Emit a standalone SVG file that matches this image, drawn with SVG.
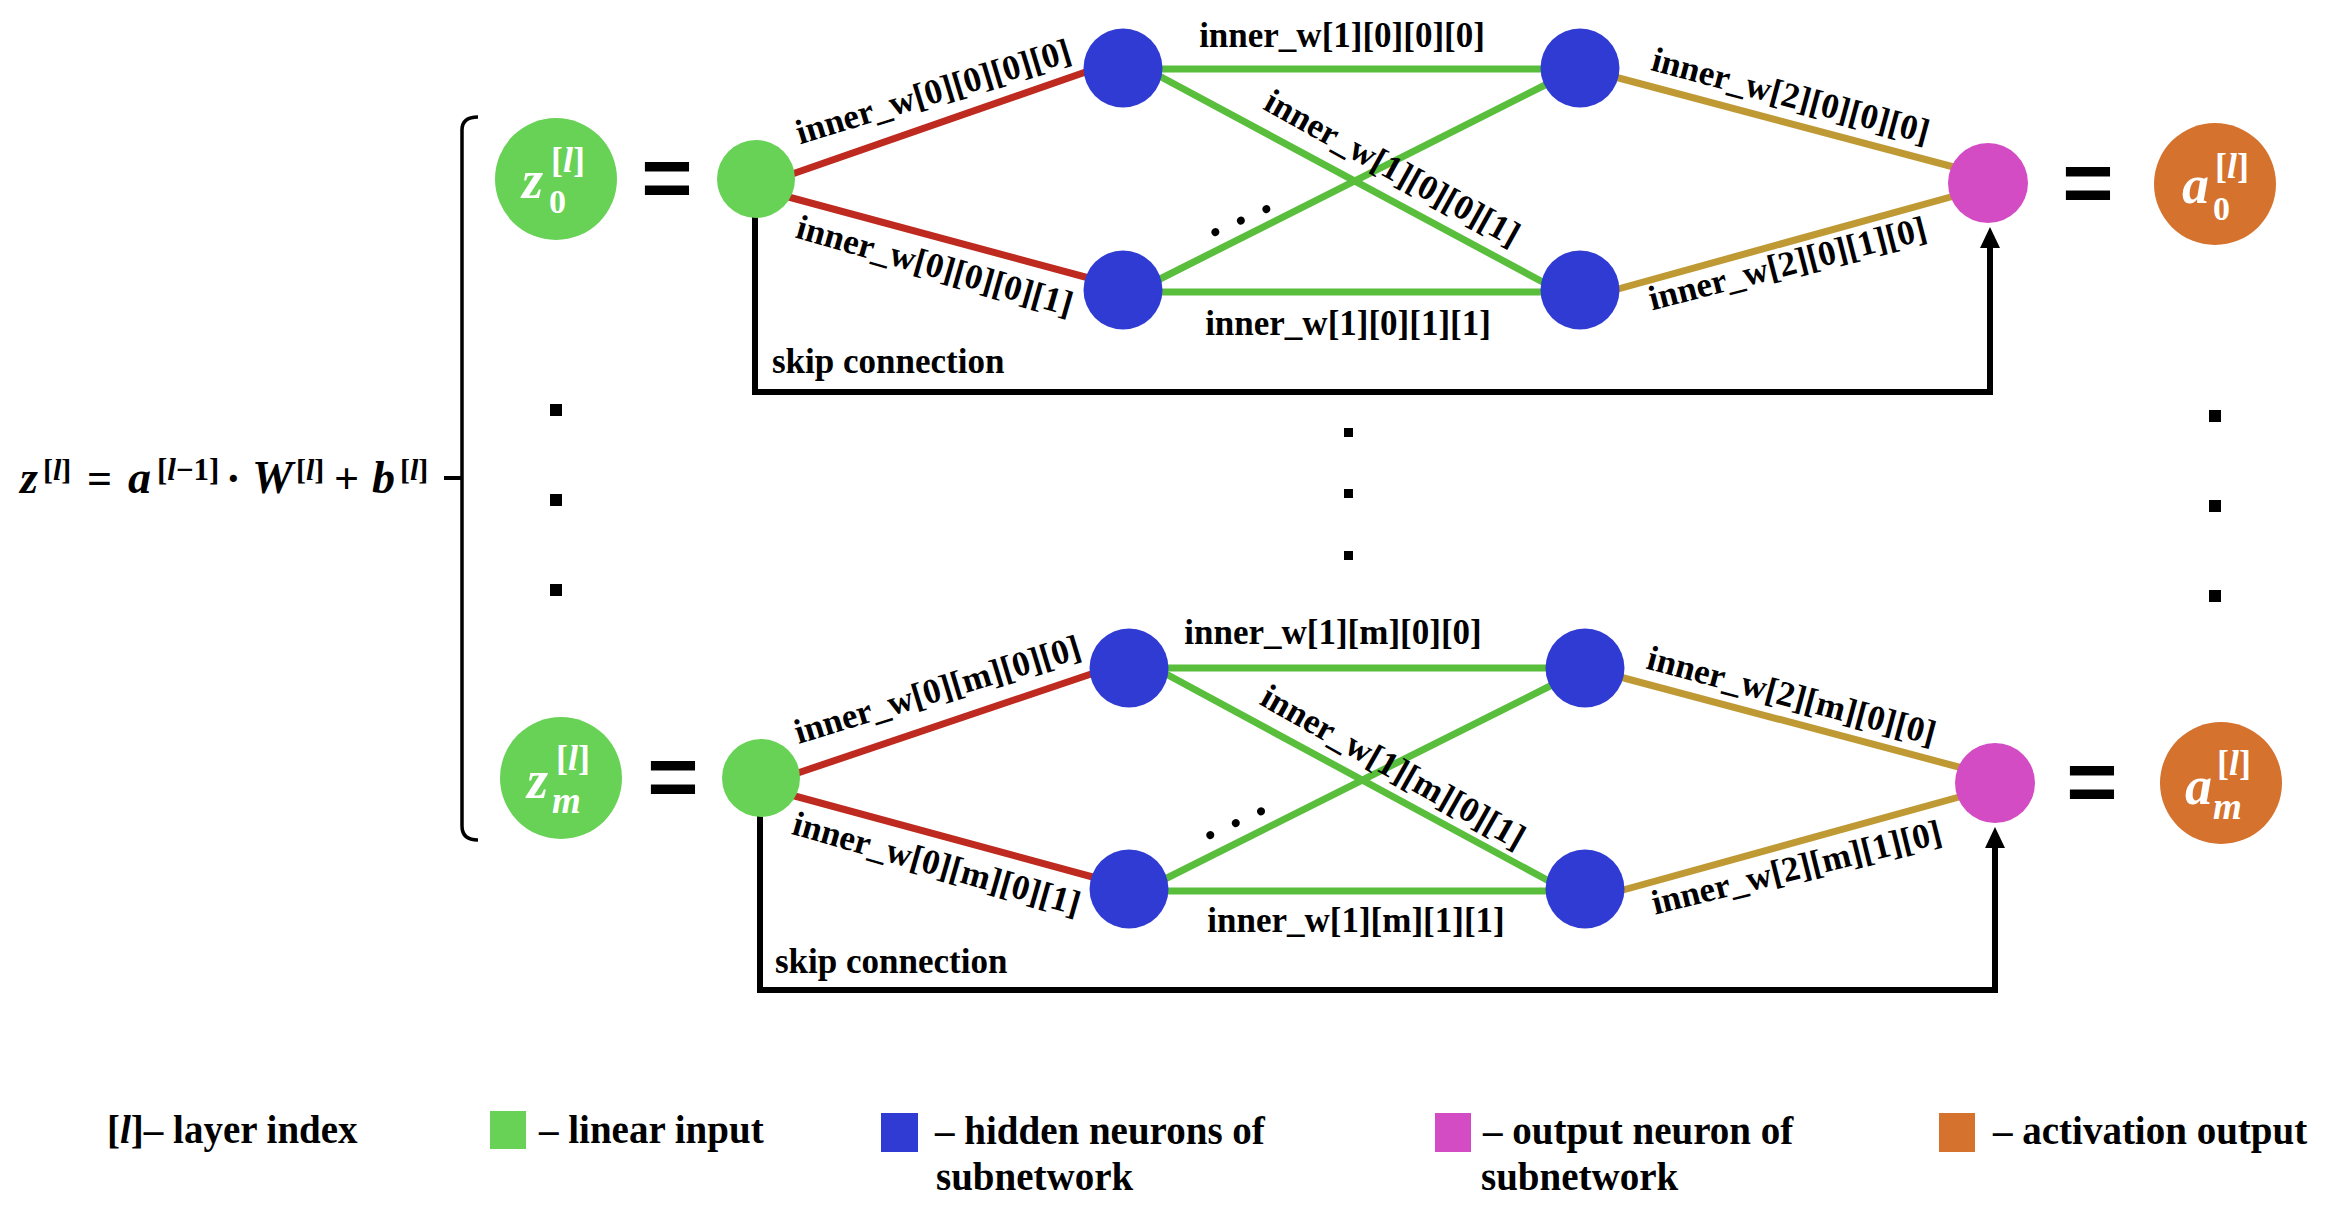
<svg xmlns="http://www.w3.org/2000/svg" width="2330" height="1206" viewBox="0 0 2330 1206">
<defs>
<style>
.lbl{font-family:"Liberation Serif",serif;font-weight:bold;font-size:35px;fill:#000}
.leg{font-family:"Liberation Serif",serif;font-weight:bold;font-size:39px;fill:#000}
.eq{font-family:"Liberation Sans",sans-serif;font-weight:bold;font-size:88px;fill:#000;text-anchor:middle}
.mth{font-family:"Liberation Serif",serif;font-weight:bold;fill:#000}
.nt{font-family:"Liberation Serif",serif;font-weight:bold;fill:#fff}
.it{font-style:italic}
.red{stroke:#BE2A1F;stroke-width:7;fill:none}
.grn{stroke:#58BE3B;stroke-width:7;fill:none}
.gld{stroke:#BF9A34;stroke-width:7;fill:none}
.skip{stroke:#000;stroke-width:6;fill:none;marker-end:url(#arr)}
.cin{fill:#67D255}
.chid{fill:#303BD4}
.cout{fill:#D34CC4}
.cact{fill:#D5722E}
.dot{fill:#000}
.dots{font-family:"Liberation Serif",serif;font-weight:bold;font-size:50px;letter-spacing:15.5px;fill:#000}
</style>
<marker id="arr" markerUnits="userSpaceOnUse" markerWidth="22" markerHeight="22" viewBox="0 0 22 22" refX="0" refY="11" orient="auto">
<path d="M0,1 L21,11 L0,21 Z" fill="#000"/>
</marker>
</defs>
<rect width="2330" height="1206" fill="#fff"/>

<!-- equation and brace -->
<g id="equation">
<text class="mth" font-size="46"><tspan class="it" x="20" y="493">z</tspan><tspan x="43" y="480" font-size="30">[</tspan><tspan class="it" font-size="30">l</tspan><tspan font-size="30">]</tspan><tspan x="87" y="493" font-size="44">=</tspan><tspan class="it" x="128" y="493">a</tspan><tspan x="157" y="480" font-size="31">[</tspan><tspan class="it" font-size="31">l</tspan><tspan font-size="31">−1]</tspan><tspan x="226" y="493" font-size="44">·</tspan><tspan class="it" x="252" y="493">W</tspan><tspan x="296" y="480" font-size="30">[</tspan><tspan class="it" font-size="30">l</tspan><tspan font-size="30">]</tspan><tspan x="334" y="493" font-size="44">+</tspan><tspan class="it" x="372" y="493">b</tspan><tspan x="400" y="480" font-size="30">[</tspan><tspan class="it" font-size="30">l</tspan><tspan font-size="30">]</tspan></text>
</g>
<g id="brace">
<path d="M478,117 Q462,117 462,130 L462,826 Q462,840 478,840" fill="none" stroke="#000" stroke-width="3.5"/>
<path d="M444,478 L462,478" fill="none" stroke="#000" stroke-width="4"/>
</g>

<!-- connectors -->
<g id="connectors">
<line class="red" x1="775" y1="180" x2="1100" y2="67"/>
<line class="red" x1="770" y1="192" x2="1100" y2="281"/>
<line class="grn" x1="1123" y1="69" x2="1580" y2="69"/>
<line class="grn" x1="1123" y1="292" x2="1580" y2="292"/>
<line class="grn" x1="1150" y1="71" x2="1552" y2="287"/>
<line class="grn" x1="1150" y1="284" x2="1555" y2="80"/>
<line class="gld" x1="1600" y1="73" x2="1965" y2="170"/>
<line class="gld" x1="1600" y1="294" x2="1965" y2="193"/>
<path class="skip" d="M755,215 L755,392 L1990,392 L1990,248"/>

<line class="red" x1="780" y1="779" x2="1100" y2="671"/>
<line class="red" x1="780" y1="792" x2="1100" y2="879"/>
<line class="grn" x1="1129" y1="668" x2="1585" y2="668"/>
<line class="grn" x1="1129" y1="891" x2="1585" y2="891"/>
<line class="grn" x1="1155" y1="668" x2="1560" y2="887"/>
<line class="grn" x1="1155" y1="884" x2="1562" y2="680"/>
<line class="gld" x1="1605" y1="673" x2="1970" y2="770"/>
<line class="gld" x1="1605" y1="895" x2="1970" y2="794"/>
<path class="skip" d="M760,815 L760,990 L1995,990 L1995,848"/>
</g>

<!-- connector labels -->
<g id="labels">
<text class="lbl" text-anchor="middle" transform="translate(934,94) rotate(-17)" x="0" y="9">inner_w[0][0][0][0]</text>
<text class="lbl" text-anchor="middle" transform="translate(934,268) rotate(16)" x="0" y="9">inner_w[0][0][0][1]</text>
<text class="lbl" text-anchor="middle" x="1342" y="47">inner_w[1][0][0][0]</text>
<text class="lbl" text-anchor="middle" transform="translate(1391,170) rotate(29)" x="0" y="9">inner_w[1][0][0][1]</text>
<text class="lbl" text-anchor="middle" x="1348" y="335">inner_w[1][0][1][1]</text>
<text class="lbl" text-anchor="middle" transform="translate(1790,98) rotate(15)" x="0" y="9">inner_w[2][0][0][0]</text>
<text class="lbl" text-anchor="middle" transform="translate(1788,266) rotate(-14.5)" x="0" y="9">inner_w[2][0][1][0]</text>
<text class="lbl" x="772" y="373">skip connection</text>
<text class="dots" transform="translate(1215,232) rotate(-24)" x="-6" y="3.5">...</text>

<text class="lbl" text-anchor="middle" x="1333" y="644">inner_w[1][m][0][0]</text>
<text class="lbl" text-anchor="middle" x="1356" y="932">inner_w[1][m][1][1]</text>
<text class="lbl" text-anchor="middle" transform="translate(938,692) rotate(-17)" x="0" y="9">inner_w[0][m][0][0]</text>
<text class="lbl" text-anchor="middle" transform="translate(936,866) rotate(16)" x="0" y="9">inner_w[0][m][0][1]</text>
<text class="lbl" text-anchor="middle" transform="translate(1392,769) rotate(29.5)" x="0" y="9">inner_w[1][m][0][1]</text>
<text class="lbl" text-anchor="middle" transform="translate(1791,698) rotate(15)" x="0" y="9">inner_w[2][m][0][0]</text>
<text class="lbl" text-anchor="middle" transform="translate(1797,870) rotate(-14)" x="0" y="9">inner_w[2][m][1][0]</text>
<text class="lbl" x="775" y="973">skip connection</text>
<text class="dots" transform="translate(1210,835) rotate(-25)" x="-6" y="3.5">...</text>
</g>

<!-- top subnetwork nodes -->
<g id="z0"><circle class="cin" cx="556" cy="179" r="61"/>
<text class="nt"><tspan class="it" x="522" y="198" font-size="54">z</tspan><tspan x="549" y="213" font-size="34">0</tspan><tspan x="551" y="172" font-size="36">[</tspan><tspan class="it" font-size="36">l</tspan><tspan font-size="36">]</tspan></text></g>
<text class="eq" x="667" y="207">=</text>
<g id="in0"><circle class="cin" cx="756" cy="179" r="39"/></g>
<g id="h0_0"><circle class="chid" cx="1123" cy="68" r="39.5"/></g>
<g id="h0_1"><circle class="chid" cx="1123" cy="290" r="39.5"/></g>
<g id="h0_2"><circle class="chid" cx="1580" cy="68" r="39.5"/></g>
<g id="h0_3"><circle class="chid" cx="1580" cy="290" r="39.5"/></g>
<g id="out0"><circle class="cout" cx="1988" cy="183" r="40"/></g>
<text class="eq" x="2088" y="212">=</text>
<g id="a0"><circle class="cact" cx="2215" cy="184" r="61"/>
<text class="nt"><tspan class="it" x="2182" y="203" font-size="54">a</tspan><tspan x="2213" y="220" font-size="34">0</tspan><tspan x="2215" y="178" font-size="36">[</tspan><tspan class="it" font-size="36">l</tspan><tspan font-size="36">]</tspan></text></g>

<!-- vertical ellipses -->
<g id="vdots">
<rect class="dot" x="550" y="404" width="12" height="12"/>
<rect class="dot" x="550" y="494" width="12" height="12"/>
<rect class="dot" x="550" y="584" width="12" height="12"/>
<rect class="dot" x="1344" y="428" width="9" height="9"/>
<rect class="dot" x="1344" y="489" width="9" height="9"/>
<rect class="dot" x="1344" y="551" width="9" height="9"/>
<rect class="dot" x="2209" y="410" width="12" height="12"/>
<rect class="dot" x="2209" y="500" width="12" height="12"/>
<rect class="dot" x="2209" y="590" width="12" height="12"/>
</g>

<!-- bottom subnetwork nodes -->
<g id="zm"><circle class="cin" cx="561" cy="778" r="61"/>
<text class="nt"><tspan class="it" x="527" y="798" font-size="54">z</tspan><tspan class="it" x="552" y="813" font-size="37">m</tspan><tspan x="556" y="770" font-size="36">[</tspan><tspan class="it" font-size="36">l</tspan><tspan font-size="36">]</tspan></text></g>
<text class="eq" x="673" y="806">=</text>
<g id="inm"><circle class="cin" cx="761" cy="778" r="39"/></g>
<g id="hm_0"><circle class="chid" cx="1129" cy="668" r="39.5"/></g>
<g id="hm_1"><circle class="chid" cx="1129" cy="889" r="39.5"/></g>
<g id="hm_2"><circle class="chid" cx="1585" cy="668" r="39.5"/></g>
<g id="hm_3"><circle class="chid" cx="1585" cy="889" r="39.5"/></g>
<g id="outm"><circle class="cout" cx="1995" cy="783" r="40"/></g>
<text class="eq" x="2092" y="811">=</text>
<g id="am"><circle class="cact" cx="2221" cy="783" r="61"/>
<text class="nt"><tspan class="it" x="2185" y="804" font-size="54">a</tspan><tspan class="it" x="2213" y="819" font-size="37">m</tspan><tspan x="2217" y="775" font-size="36">[</tspan><tspan class="it" font-size="36">l</tspan><tspan font-size="36">]</tspan></text></g>

<!-- legend -->
<g id="legend">
<text class="leg" x="107" y="1143">[<tspan class="it">l</tspan>]– layer index</text>
<rect class="cin" x="490" y="1111" width="36" height="38"/>
<text class="leg" x="539" y="1143">– linear input</text>
<rect class="chid" x="881" y="1113" width="37" height="39"/>
<text class="leg"><tspan x="935" y="1144">– hidden neurons of</tspan><tspan x="936" y="1190">subnetwork</tspan></text>
<rect class="cout" x="1435" y="1113" width="36" height="39"/>
<text class="leg"><tspan x="1483" y="1144">– output neuron of</tspan><tspan x="1481" y="1190">subnetwork</tspan></text>
<rect class="cact" x="1939" y="1113" width="36" height="39"/>
<text class="leg" x="1993" y="1144">– activation output</text>
</g>
</svg>
